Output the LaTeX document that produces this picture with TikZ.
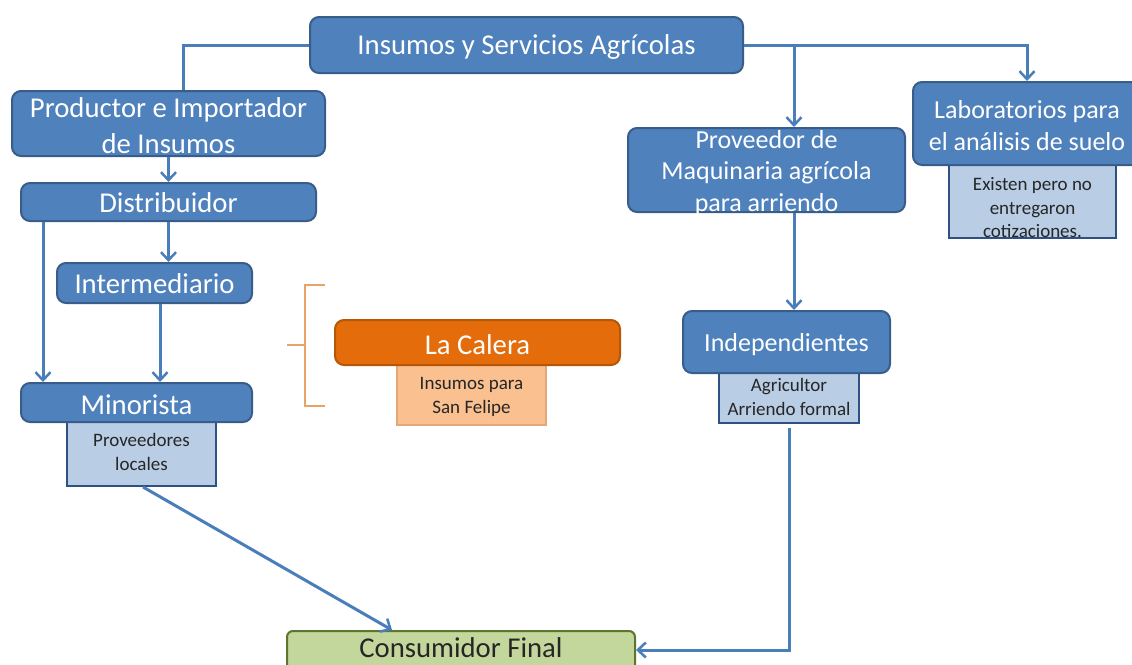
\documentclass[tikz,border=0pt]{standalone}
\usepackage{fontspec}
\setmainfont{Carlito}
\usetikzlibrary{arrows.meta,calc}
\definecolor{bfill}{HTML}{4F81BD}
\definecolor{bdr}{HTML}{385D8A}
\definecolor{conn}{HTML}{4A7EBB}
\definecolor{sfill}{HTML}{B9CDE5}
\definecolor{sbdr}{HTML}{2F5082}
\definecolor{ofill}{HTML}{E46C0A}
\definecolor{obdr}{HTML}{B65708}
\definecolor{lofill}{HTML}{FAC090}
\definecolor{lobdr}{HTML}{E3A877}
\definecolor{gfill}{HTML}{C3D69B}
\definecolor{gbdr}{HTML}{5E7530}
\definecolor{brk}{HTML}{E8A465}
\tikzset{
  bigfont/.style={font=\fontsize{28.7}{36}\selectfont},
  midfont/.style={font=\fontsize{26}{31.5}\selectfont},
  smallfont/.style={font=\fontsize{19}{23.5}\selectfont},
  mainbox/.style={draw=bdr, fill=bfill, line width=2pt, rounded corners=9pt, inner sep=0pt},
  mtext/.style={text=white, align=center, inner sep=0pt},
  subbox/.style={draw=sbdr, fill=sfill, line width=2pt, inner sep=0pt},
  subtext/.style={smallfont, text=black!85, align=center, inner sep=0pt},
  calbox/.style={draw=obdr, fill=ofill, line width=2pt, rounded corners=9pt, inner sep=0pt},
  locbox/.style={draw=lobdr, fill=lofill, line width=1.5pt, inner sep=0pt},
  consbox/.style={draw=gbdr, fill=gfill, line width=2pt, rounded corners=6pt, inner sep=0pt},
  conn/.style={draw=conn, line width=3pt},
  arr/.style={conn, -{Straight Barb[length=8pt,width=15pt,line width=2.5pt]}},
}
\begin{document}
\begin{tikzpicture}[x=1pt,y=-1pt]
\useasboundingbox (0,0) rectangle (1132,664);

% sub boxes first (under main boxes)
\node[subbox, minimum width=149pt, minimum height=64pt] (prov) at (141.5,454) {};
\node[subtext] (provt) at (141.5,452) {Proveedores\\locales};
\node[locbox, minimum width=149pt, minimum height=60pt] (ins) at (471.5,395) {};
\node[subtext] (inst) at (471.5,397) {Insumos para\\San Felipe};
\node[subbox, minimum width=140pt, minimum height=50pt] (agr) at (789,398) {};
\node[subtext] (agrt) at (789,397) {Agricultor\\Arriendo formal};
\node[subbox, minimum width=167pt, minimum height=73pt] (exi) at (1032.5,201.5) {};
\node[subtext] (exit) at (1032.5,208) {Existen pero no\\entregaron\\cotizaciones.};

% main boxes
\node[mainbox, minimum width=433pt, minimum height=56pt] (top) at (526.5,45) {};
\node[mtext, bigfont] (topt) at ([yshift=-2pt]top.center) {Insumos y Servicios Agrícolas};
\node[mainbox, minimum width=313pt, minimum height=65pt] (prod) at (168.5,123.5) {};
\node[mtext, bigfont] (prodt) at ([yshift=-2pt]prod.center) {Productor e Importador\\de Insumos};
\node[mainbox, minimum width=295pt, minimum height=38pt] (dist) at (168.5,202) {};
\node[mtext, bigfont] (distt) at ([yshift=-1pt]dist.center) {Distribuidor};
\node[mainbox, minimum width=195pt, minimum height=40pt] (inter) at (154.5,283) {};
\node[mtext, bigfont] (intert) at ([yshift=-1pt]inter.center) {Intermediario};
\node[mainbox, minimum width=231pt, minimum height=39pt] (mino) at (136.5,402.5) {};
\node[mtext, bigfont] (minot) at ([yshift=-2pt]mino.center) {Minorista};
\node[calbox, minimum width=285pt, minimum height=45pt] (cal) at (477.5,342.5) {};
\node[mtext, bigfont] (calt) at ([yshift=-2pt]cal.center) {La Calera};
\node[mainbox, minimum width=277pt, minimum height=84pt] (maq) at (766.5,170) {};
\node[mtext, midfont] (maqt) at ([yshift=-3pt]maq.center) {Proveedor de\\Maquinaria agrícola\\para arriendo};
\node[mainbox, minimum width=207pt, minimum height=62pt] (ind) at (786.5,342) {};
\node[mtext, midfont] (indt) at ([yshift=-3pt]ind.center) {Independientes};
\node[mainbox, minimum width=228pt, minimum height=83pt] (lab) at (1027,123.5) {};
\node[mtext, midfont] (labt) at ([yshift=-2pt]lab.center) {Laboratorios para\\el análisis de suelo};
\node[consbox, minimum width=348pt, minimum height=40pt] (cons) at (461,651) {};
\node[bigfont, text=black!85, inner sep=0pt] (const) at ([yshift=3pt]cons.center) {Consumidor Final};

% helper coordinates
\coordinate (maqin) at ([xshift=27.5pt]maq.north);
\coordinate (maqout) at ([xshift=27.5pt]maq.south);

% connectors
\draw[conn] (top.west) -| ([xshift=14.5pt]prod.north);
\draw[arr] (top.east) -| (lab.north);
\draw[arr] (top.east -| maqin) -- (maqin);
\draw[arr] (prod.south) -- (dist.north);
\draw[arr] (dist.south) -- (dist.south |- inter.north);
\draw[arr] ([xshift=-125.5pt]dist.south) -- ([xshift=-93.5pt]mino.north);
\draw[arr] ([xshift=5.5pt]inter.south) -- ([xshift=23.5pt]mino.north);
\draw[arr] ([xshift=1.5pt]prov.south) -- ([xshift=-69pt]cons.north);
\draw[arr] (maqout) -- (maqout |- ind.north);
\draw[arr] ([yshift=-4pt]agr.south) |- ([yshift=1pt]cons.east);

% bracket
\draw[brk, line width=2.5pt] (325,285) -- (305,285) -- (305,406) -- (325,406);
\draw[brk, line width=2.5pt] (305,345) -- (287,345);
\end{tikzpicture}
\end{document}
